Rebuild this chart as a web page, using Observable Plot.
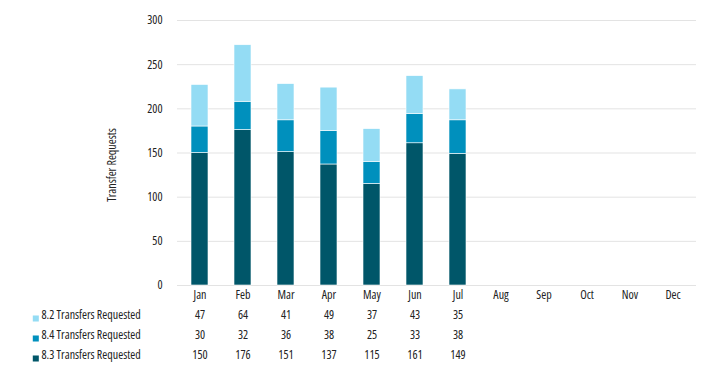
<!DOCTYPE html>
<html>
<head>
<meta charset="utf-8">
<script src="https://cdn.jsdelivr.net/npm/d3@7"></script>
<script src="https://cdn.jsdelivr.net/npm/@observablehq/plot@0.6"></script>
<style>
  html, body { margin: 0; padding: 0; background: #fff; }
  #chart svg { font-family: "Open Sans", sans-serif; font-stretch: 75%; font-weight: 400; }
  #chart svg text { font-stretch: 75%; font-weight: 400; }
</style>
</head>
<body>
<div id="chart"></div>
<script>
const months = ["Jan","Feb","Mar","Apr","May","Jun","Jul","Aug","Sep","Oct","Nov","Dec"];
const seriesNames = ["8.2 Transfers Requested","8.4 Transfers Requested","8.3 Transfers Requested"];
const seriesColors = ["#94dcf4","#0090bd","#005669"];
const values82 = [47, 64, 41, 49, 37, 43, 35];
const values84 = [30, 32, 36, 38, 25, 33, 38];
const values83 = [150, 176, 151, 137, 115, 161, 149];
const yTicks = [0, 50, 100, 150, 200, 250, 300];

const seriesValues = [values82, values84, values83];
// stacking order: 8.3 bottom, 8.4 middle, 8.2 top
const stackOrder = [2, 1, 0];
const rows = [];
for (const si of stackOrder) {
  seriesValues[si].forEach((v, i) => rows.push({month: months[i], series: seriesNames[si], value: v}));
}
const tableRows = [];
seriesValues.forEach((vals, si) => {
  vals.forEach((v, i) => tableRows.push({month: months[i], series: seriesNames[si], row: si, value: v}));
});
const legendRows = seriesNames.map((s, i) => ({series: s, row: i}));

const rowDy = [33, 53, 73];
const font = 12;

const marks = [
  Plot.gridY(yTicks, {stroke: "#e3e3e3", strokeOpacity: 1}),
  Plot.axisY(yTicks, {tickSize: 0, tickPadding: 15, fontSize: font, fill: "#222", label: null}),
  Plot.axisX({tickSize: 0, tickPadding: 5, fontSize: font, fill: "#222", label: null}),
  Plot.barY(rows, {x: "month", y: "value", fill: "series", order: seriesNames.slice().reverse(), stroke: "white", strokeWidth: 0.6}),
  Plot.text(["Transfer Requests"], {frameAnchor: "left", textAnchor: "middle", rotate: -90, dx: -65, dy: 12, fontSize: font, fill: "#222"}),
];
for (let r = 0; r < 3; r++) {
  marks.push(Plot.text(tableRows.filter(d => d.row === r), {x: "month", text: d => String(d.value), frameAnchor: "bottom", dy: rowDy[r], fontSize: font, fill: "#222"}));
  marks.push(Plot.text([legendRows[r]], {text: "series", frameAnchor: "bottom-left", textAnchor: "start", dx: -136, dy: rowDy[r], fontSize: font, fill: "#222"}));
  marks.push(Plot.dot([legendRows[r]], {frameAnchor: "bottom-left", dx: -141.7, dy: rowDy[r], symbol: "square", r: 3.4, fill: seriesColors[r]}));
}

const chart = Plot.plot({
  width: 710,
  height: 375,
  marginTop: 20,
  marginBottom: 90,
  marginLeft: 177,
  marginRight: 14,
  style: {fontSize: font + "px", background: "white"},
  x: {domain: months, paddingInner: 0.6, paddingOuter: 0.3, axis: null},
  y: {domain: [0, 300], axis: null},
  color: {domain: seriesNames, range: seriesColors},
  marks
});
document.getElementById("chart").appendChild(chart);
</script>
</body>
</html>
